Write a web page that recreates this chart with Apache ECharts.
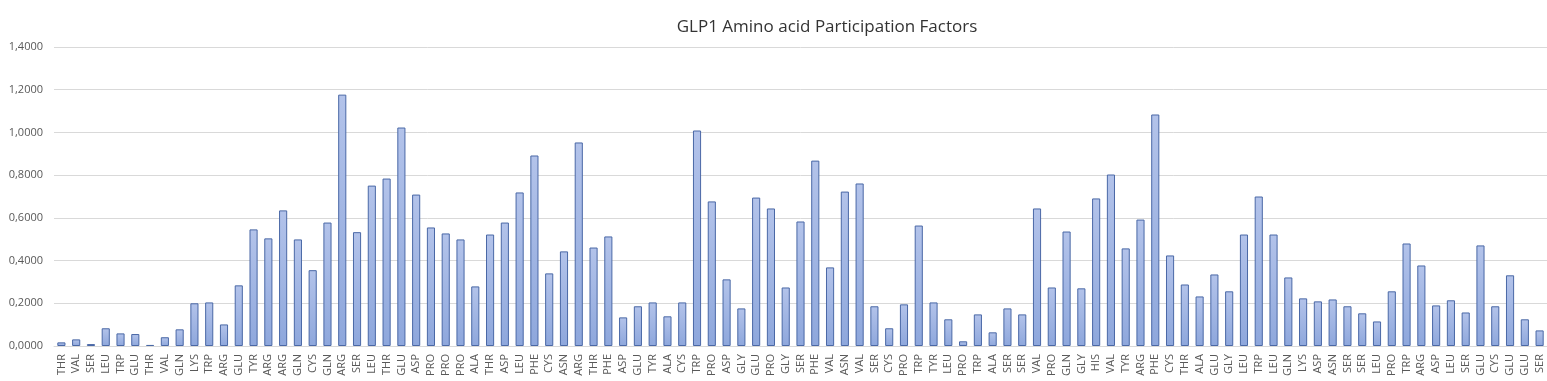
<!DOCTYPE html>
<html>
<head>
<meta charset="utf-8">
<script src="https://cdn.jsdelivr.net/npm/echarts@6/dist/echarts.min.js"></script>
<style>
html,body{margin:0;padding:0;background:#fff;}
#chart{width:1547px;height:381px;}
</style>
</head>
<body>
<div id="chart"></div>
<script>
const categories = ["THR","VAL","SER","LEU","TRP","GLU","THR","VAL","GLN","LYS","TRP","ARG","GLU","TYR","ARG","ARG","GLN","CYS","GLN","ARG","SER","LEU","THR","GLU","ASP","PRO","PRO","PRO","ALA","THR","ASP","LEU","PHE","CYS","ASN","ARG","THR","PHE","ASP","GLU","TYR","ALA","CYS","TRP","PRO","ASP","GLY","GLU","PRO","GLY","SER","PHE","VAL","ASN","VAL","SER","CYS","PRO","TRP","TYR","LEU","PRO","TRP","ALA","SER","SER","VAL","PRO","GLN","GLY","HIS","VAL","TYR","ARG","PHE","CYS","THR","ALA","GLU","GLY","LEU","TRP","LEU","GLN","LYS","ASP","ASN","SER","SER","LEU","PRO","TRP","ARG","ASP","LEU","SER","GLU","CYS","GLU","GLU","SER"];
const values = [0.017,0.031,0.009,0.083,0.059,0.056,0.005,0.041,0.078,0.200,0.204,0.101,0.284,0.546,0.504,0.635,0.499,0.355,0.578,1.177,0.533,0.751,0.784,1.023,0.709,0.555,0.527,0.499,0.279,0.522,0.578,0.719,0.892,0.340,0.443,0.953,0.461,0.513,0.134,0.186,0.204,0.139,0.204,1.009,0.677,0.312,0.176,0.695,0.644,0.274,0.583,0.868,0.368,0.723,0.761,0.186,0.083,0.195,0.564,0.204,0.125,0.022,0.148,0.064,0.176,0.148,0.644,0.274,0.536,0.270,0.691,0.803,0.457,0.592,1.084,0.424,0.288,0.232,0.335,0.256,0.522,0.700,0.522,0.321,0.223,0.209,0.218,0.186,0.153,0.115,0.256,0.480,0.377,0.190,0.214,0.157,0.471,0.186,0.331,0.125,0.073];
const titleText = "GLP1 Amino acid Participation Factors";

const chart = echarts.init(document.getElementById('chart'), null, {renderer:'canvas'});
chart.setOption({
  animation:false,
  backgroundColor:'#ffffff',
  title:{
    text:titleText, left:822, top:14, textAlign:'center',
    textStyle:{fontFamily:'"Open Sans", sans-serif', fontSize:17, fontWeight:'normal', color:'#333333'}
  },
  grid:{left:54, right:0, top:47, bottom:35, containLabel:false},
  xAxis:{
    type:'category', data:categories,
    axisTick:{show:false},
    axisLine:{lineStyle:{color:'#d9d9d9'}},
    axisLabel:{rotate:90, interval:0, margin:8, fontSize:11, color:'#595959', fontFamily:'"Open Sans", sans-serif'}
  },
  yAxis:{
    type:'value', min:0, max:1.4, interval:0.2,
    axisLine:{show:false}, axisTick:{show:false},
    splitLine:{lineStyle:{color:'#d9d9d9'}},
    axisLabel:{margin:11, fontSize:11, color:'#595959', fontFamily:'"Open Sans", sans-serif',
      formatter:v=>v.toFixed(4).replace('.',',')}
  },
  series:[{
    type:'bar', data:values, barCategoryGap:'45%',
    itemStyle:{
      color:new echarts.graphic.LinearGradient(0,0,0,1,[{offset:0,color:'#b3c3ea'},{offset:1,color:'#8ea7dc'}]),
      borderColor:'#4a68a6', borderWidth:1
    }
  }]
});
</script>
</body>
</html>
